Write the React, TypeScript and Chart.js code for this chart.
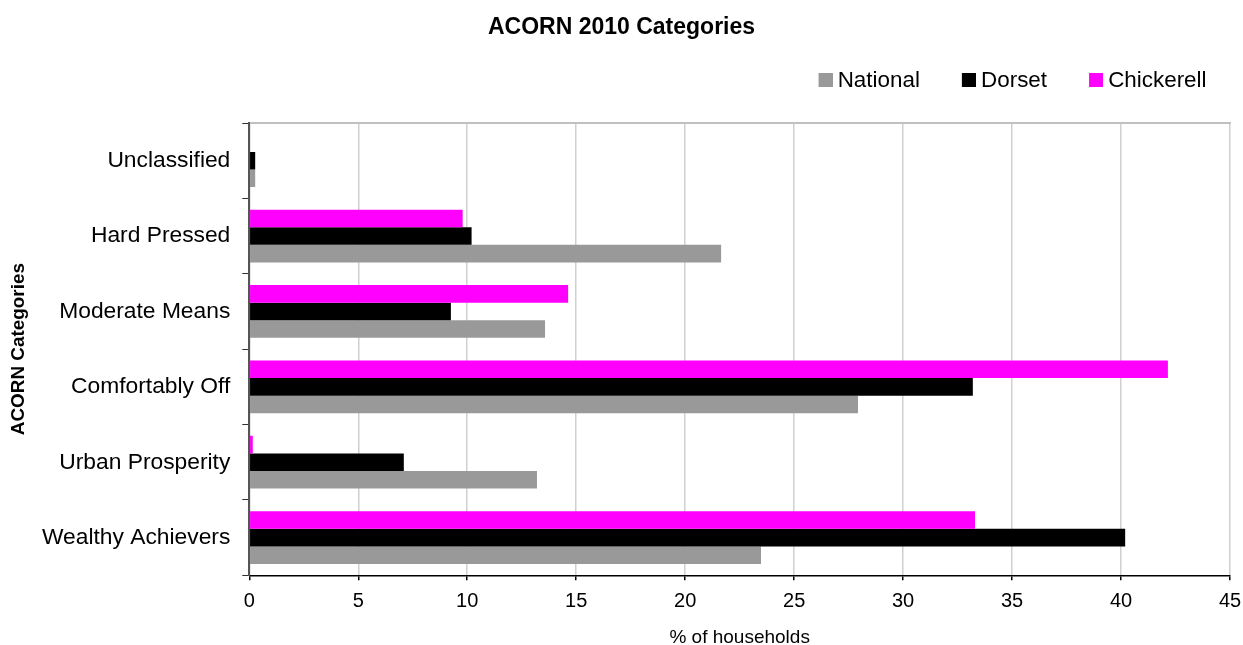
import React, { useEffect, useRef } from "react";
import { Chart, registerables } from "chart.js";

Chart.register(...registerables);

const FONT = "'Liberation Sans', Arial, Helvetica, sans-serif";

const CATEGORIES = [
  "Unclassified",
  "Hard Pressed",
  "Moderate Means",
  "Comfortably Off",
  "Urban Prosperity",
  "Wealthy Achievers",
];
const NATIONAL = [0.27, 21.65, 13.57, 27.93, 13.2, 23.48];
const DORSET = [0.27, 10.2, 9.25, 33.2, 7.09, 40.19];
const CHICKERELL = [0, 9.79, 14.63, 42.15, 0.16, 33.3];

const SERIES_NAMES = ["Chickerell", "Dorset", "National"];
const SERIES_COLORS = ["#ff00ff", "#000000", "#999999"];

const X_MIN = 0;
const X_MAX = 45;
const X_STEP = 5;

// keeps the right-aligned legend on one row (avoids a float-rounding wrap)
const legendRowFix = {
  id: "legendRowFix",
  beforeDraw(chart: any) {
    const lg = chart.legend;
    if (lg && Array.isArray(lg.lineWidths)) {
      lg.lineWidths = lg.lineWidths.map((w: number) => w + 0.5);
    }
  },
};

// legend swatch: 14px square placed close to the label text
function makeSwatch(color: string): HTMLCanvasElement {
  const c = document.createElement("canvas");
  c.width = 26;
  c.height = 14;
  const g = c.getContext("2d");
  if (g) {
    g.fillStyle = color;
    g.fillRect(12, 0, 14, 14);
  }
  return c;
}

export default function App() {
  const ref = useRef<HTMLCanvasElement>(null);

  useEffect(() => {
    if (!ref.current) return;
    const seriesData = [CHICKERELL, DORSET, NATIONAL];
    const chart = new Chart(ref.current, {
      type: "bar",
      data: {
        labels: CATEGORIES,
        datasets: SERIES_NAMES.map((name, i) => ({
          label: name,
          data: seriesData[i],
          backgroundColor: SERIES_COLORS[i],
          pointStyle: makeSwatch(SERIES_COLORS[i]),
        })),
      },
      options: {
        indexAxis: "y",
        responsive: false,
        animation: false,
        layout: { padding: 0 },
        datasets: {
          bar: { categoryPercentage: 0.7, barPercentage: 1, borderWidth: 0 },
        },
        plugins: {
          title: {
            display: true,
            text: "ACORN 2010 Categories",
            color: "#000",
            font: { family: FONT, size: 23, weight: "bold", lineHeight: 0.5 },
            padding: { top: 21.75, bottom: 0 },
          },
          legend: {
            display: true,
            position: "top",
            align: "end",
            reverse: true,
            labels: {
              usePointStyle: true,
              boxWidth: 14,
              boxHeight: 14,
              padding: 36,
              color: "#000",
              font: { family: FONT, size: 22.4 },
            },
          },
          tooltip: { enabled: false },
        },
        scales: {
          x: {
            type: "linear",
            position: "bottom",
            min: X_MIN,
            max: X_MAX,
            ticks: {
              stepSize: X_STEP,
              color: "#000",
              font: { family: FONT, size: 20 },
              padding: 9.2,
            },
            grid: {
              color: "#d0d0d0",
              lineWidth: 1.5,
              tickLength: 5,
              tickColor: "#000",
            },
            border: { color: "#000", width: 1.5 },
            title: {
              display: true,
              text: "% of households",
              color: "#000",
              font: { family: FONT, size: 19, lineHeight: 0.8 },
              padding: 0,
            },
            afterFit: (s: any) => {
              s.height = 69.7;
              s.paddingRight = 13;
              s.paddingLeft = 0;
            },
          },
          x2: {
            type: "linear",
            position: "top",
            min: X_MIN,
            max: X_MAX,
            ticks: { display: false },
            grid: { display: false, drawTicks: false },
            border: { display: true, color: "#c0c0c0", width: 2 },
            afterFit: (s: any) => {
              s.height = 21.35;
              s.paddingRight = 0;
              s.paddingLeft = 0;
            },
          },
          y: {
            type: "category",
            position: "left",
            ticks: {
              color: "#000",
              font: { family: FONT, size: 22.8 },
              padding: 12,
            },
            grid: {
              drawOnChartArea: false,
              tickLength: 7,
              tickColor: "#333",
              offset: true,
            },
            border: { color: "#555", width: 2 },
            title: {
              display: true,
              text: "ACORN Categories",
              color: "#000",
              font: { family: FONT, size: 18.9, weight: "bold" },
              padding: { top: 7.2, bottom: 0 },
            },
            afterFit: (s: any) => {
              s.width = 249.3;
            },
          },
        },
      },
      plugins: [legendRowFix],
    } as any);
    return () => chart.destroy();
  }, []);

  return (
    <canvas
      ref={ref}
      width={1243}
      height={645}
      style={{ position: "absolute", left: 0, top: 0, display: "block" }}
    />
  );
}
